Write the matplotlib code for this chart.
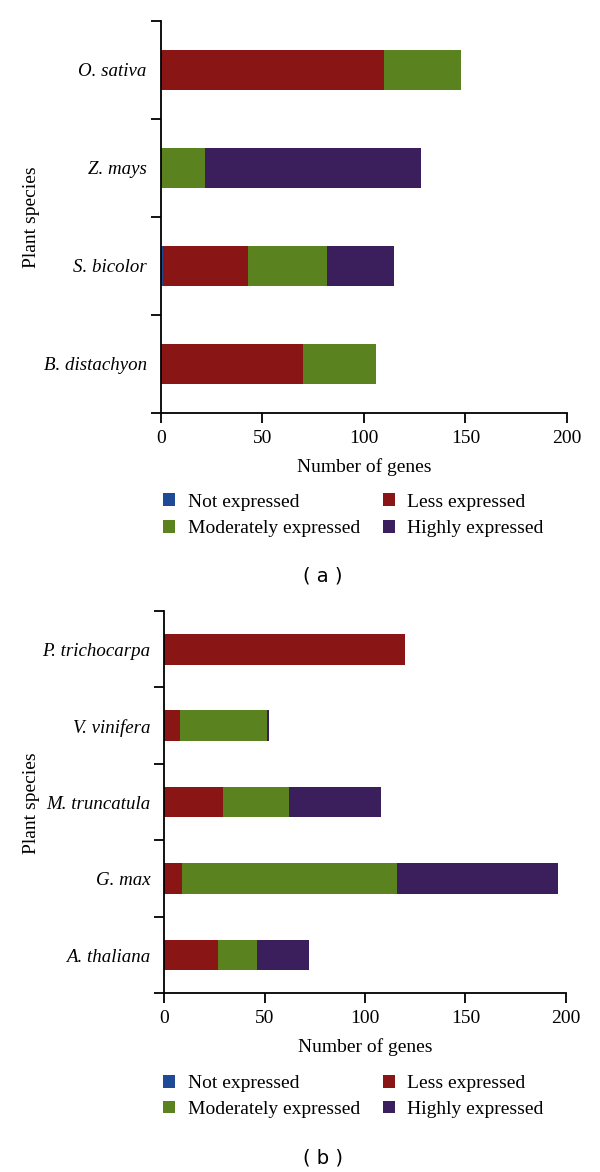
import matplotlib
matplotlib.use("Agg")
import matplotlib.pyplot as plt
from matplotlib.patches import Patch
import numpy as np

# ---- data ----
series_names = ["Not expressed", "Less expressed", "Moderately expressed", "Highly expressed"]
colors = ["#1f4a96", "#8a1515", "#5a821e", "#3a1f5c"]

species_a = ["B. distachyon", "S. bicolor", "Z. mays", "O. sativa"]
not_a = [0, 1, 0, 0]
less_a = [70, 42, 0, 110]
mod_a = [36, 39, 22, 38]
high_a = [0, 33, 106, 0]

species_b = ["A. thaliana", "G. max", "M. truncatula", "V. vinifera", "P. trichocarpa"]
not_b = [0, 0, 0, 0, 0]
less_b = [27, 9, 29, 8, 120]
mod_b = [19, 107, 33, 43, 0]
high_b = [26, 80, 46, 1, 0]

xticks = [0, 50, 100, 150, 200]

W, H = 600, 1172
fig = plt.figure(figsize=(W / 100, H / 100), dpi=100)
SERIF = "Liberation Serif"


def px_axes(left, top, right, bottom):
    return fig.add_axes([left / W, 1 - bottom / H, (right - left) / W, (bottom - top) / H])


def draw(ax, species, data, barh_frac):
    n = len(species)
    y = np.arange(n)
    left = np.zeros(n)
    for vals, c in zip(data, colors):
        ax.barh(y, vals, left=left, height=barh_frac, color=c, edgecolor="none")
        left = left + np.array(vals)
    ax.set_xlim(0, 200)
    ax.set_ylim(-0.5, n - 0.5)
    ax.set_xticks(xticks)
    ax.set_xticklabels([str(t) for t in xticks], fontfamily=SERIF, fontsize=14)
    ax.set_yticks(np.arange(-0.5, n, 1.0))
    ax.set_yticklabels([])
    ax.set_yticks(y, minor=True)
    ax.set_yticklabels(species, minor=True, fontfamily=SERIF, fontstyle="italic", fontsize=13.6)
    ax.tick_params(axis="y", which="minor", length=0, pad=10)
    ax.tick_params(axis="both", which="major", length=7, width=1.3, direction="out")
    ax.tick_params(axis="x", pad=5)
    for s in ["top", "right"]:
        ax.spines[s].set_visible(False)
    for s in ["left", "bottom"]:
        ax.spines[s].set_linewidth(1.3)
    ax.set_xlabel("Number of genes", fontfamily=SERIF, fontsize=14, labelpad=8)


# panel (a)
ax1 = px_axes(160.7, 20.7, 567, 413)
draw(ax1, species_a, [not_a, less_a, mod_a, high_a], 0.41)
fig.text(31 / W, 1 - 217 / H, "Plant species", rotation=90, ha="center", va="center",
         fontfamily=SERIF, fontsize=14)

# panel (b)
ax2 = px_axes(164.3, 611, 565.7, 993.3)
draw(ax2, species_b, [not_b, less_b, mod_b, high_b], 0.4)
fig.text(31 / W, 1 - 803 / H, "Plant species", rotation=90, ha="center", va="center",
         fontfamily=SERIF, fontsize=14)

handles = [Patch(facecolor=c, edgecolor="none") for c in colors]
order = [0, 2, 1, 3]


def add_legend(cy, spacing):
    fig.legend([handles[i] for i in order], [series_names[i] for i in order],
               ncol=2, loc="center", bbox_to_anchor=(353.5 / W, 1 - cy / H),
               frameon=False, prop={"family": SERIF, "size": 14},
               handlelength=0.62, handleheight=0.62, handletextpad=0.65,
               columnspacing=1.14, labelspacing=spacing, borderpad=0, borderaxespad=0)


add_legend(515.4, 0.5)
add_legend(1096.5, 0.42)

fig.text(322.7 / W, 1 - 576 / H, "( a )", ha="center", va="center",
         fontfamily="DejaVu Sans", fontsize=14)
fig.text(322.7 / W, 1 - 1158 / H, "( b )", ha="center", va="center",
         fontfamily="DejaVu Sans", fontsize=14)

fig.savefig("out.png", dpi=100)
